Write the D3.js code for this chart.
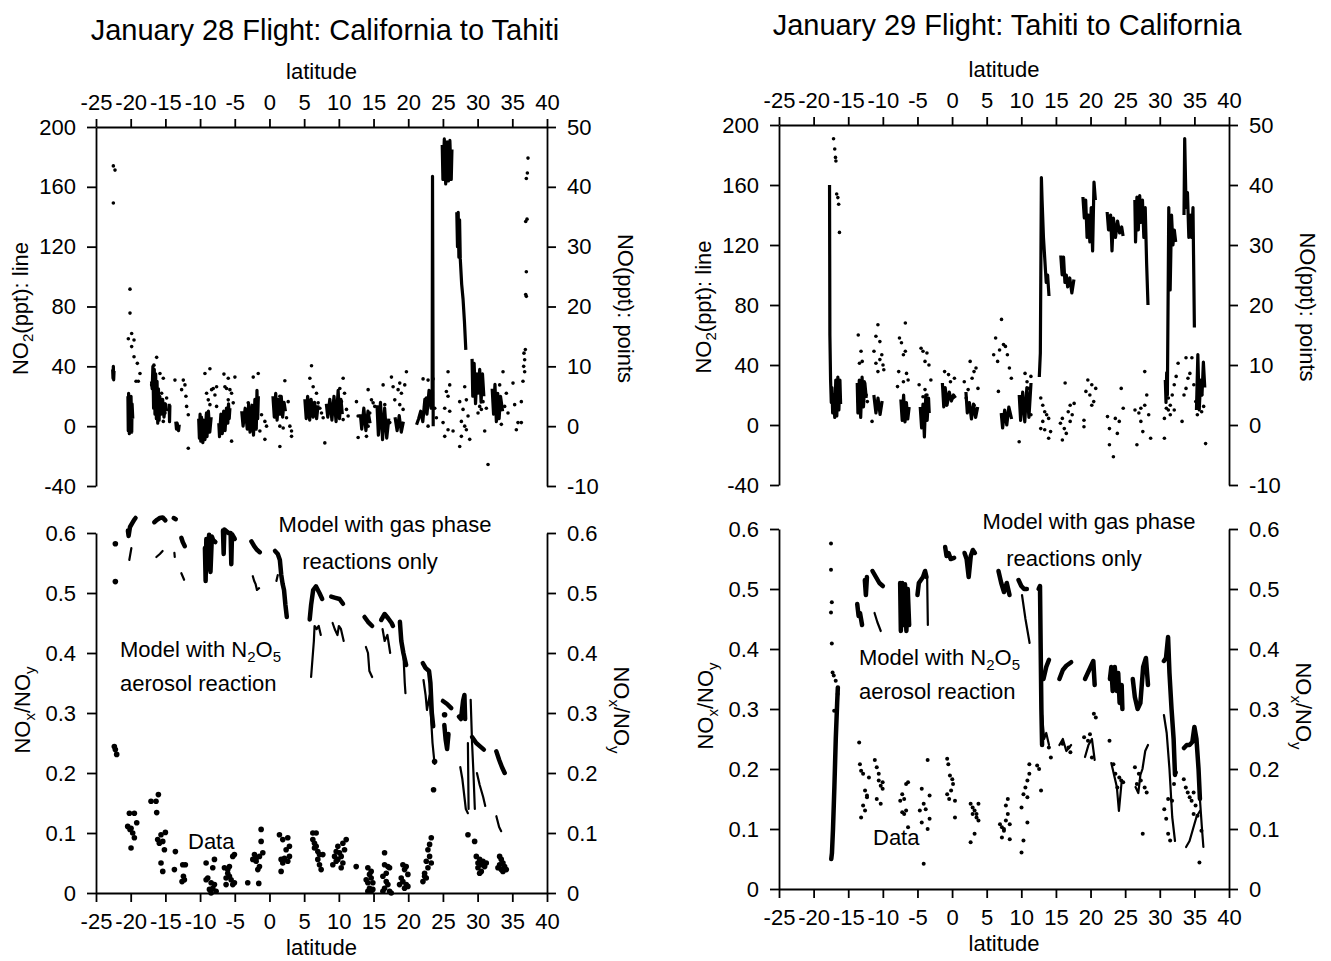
<!DOCTYPE html>
<html>
<head>
<meta charset="utf-8">
<script src="https://cdn.jsdelivr.net/npm/d3@7"></script>
<style>
  body { margin: 0; background: #fff; }
  svg text { font-family: "Liberation Sans", Arial, Helvetica, sans-serif; fill: #000; }
</style>
</head>
<body>
<svg id="chart" width="1331" height="961"></svg>
<script>
// ---- axis ticks ----
var latTicks = [-25, -20, -15, -10, -5, 0, 5, 10, 15, 20, 25, 30, 35, 40];
var no2Ticks = [-40, 0, 40, 80, 120, 160, 200];
var noTicks = [-10, 0, 10, 20, 30, 40, 50];
var ratioTicks = [0, 0.1, 0.2, 0.3, 0.4, 0.5, 0.6];

// ---- January 28 : NO2 line segments [lat, ppt] ----
var jan28No2 = [
  [[-22.6,38],[-22.55,32],[-22.5,40],[-22.45,31],[-22.4,37]],
  [[-20.4,20],[-20.35,-3],[-20.3,22],[-20.2,-5],[-20.1,18],[-20.0,-2],[-19.95,20],[-19.85,-4],[-19.8,15],[-19.7,5]],
  [[-17.0,30],[-16.9,25],[-16.8,40],[-16.7,12],[-16.6,38],[-16.5,8],[-16.4,35],[-16.3,5],[-16.2,30],[-16.1,2],[-16.0,25],[-15.9,4],[-15.8,20],[-15.6,8],[-15.4,18],[-15.2,6],[-15.0,15],[-14.8,10]],
  [[-14.45,15],[-14.4,3],[-14.35,14]],
  [[-13.5,3],[-13.4,-2],[-13.3,2],[-13.1,-3],[-13.0,1]],
  [[-10.2,5],[-10.1,-8],[-10.0,8],[-9.9,-10],[-9.8,6],[-9.6,-11],[-9.5,4],[-9.3,-9],[-9.1,8],[-9.0,-7],[-8.8,10],[-8.6,-4],[-8.4,6]],
  [[-7.3,2],[-7.2,-7],[-7.0,8],[-6.8,-5],[-6.6,10],[-6.4,-3],[-6.2,12],[-6.0,2],[-5.9,15],[-5.8,5],[-5.7,12]],
  [[-4.0,10],[-3.8,0],[-3.5,12],[-3.2,-2],[-3.0,15],[-2.8,-4],[-2.5,14],[-2.3,-6],[-2.1,18],[-1.9,-2],[-1.8,24],[-1.7,5],[-1.6,20]],
  [[0.5,20],[0.7,6],[0.9,22],[1.1,4],[1.3,18],[1.5,8],[1.7,20],[1.9,6],[2.1,16],[2.3,10]],
  [[5.1,18],[5.3,5],[5.5,20],[5.8,4],[6.0,18],[6.3,6],[6.5,16],[6.8,5],[7.0,14]],
  [[8.2,15],[8.4,6],[8.7,18],[9.0,4],[9.3,20],[9.6,3],[9.9,24],[10.1,5],[10.3,18],[10.5,8]],
  [[13.1,8],[13.3,-2],[13.6,12],[13.9,-3],[14.2,10],[14.5,2]],
  [[15.5,14],[15.7,-6],[16.0,16],[16.3,-9],[16.6,12],[16.9,-8],[17.2,5]],
  [[18.1,6],[18.4,-3],[18.7,7],[19.0,-4],[19.3,3]],
  [[21.2,1],[21.5,5],[21.8,10],[22.1,3],[22.4,18],[22.7,8],[23.0,24],[23.3,12],[23.45,20],[23.5,167],[23.6,0]],
  [[24.9,188],[25.0,165],[25.2,192],[25.4,162],[25.6,190],[25.8,164],[26.0,191],[26.2,165],[26.3,185]],
  [[27.0,143],[27.1,120],[27.2,143],[27.3,113],[27.4,138],[27.5,112],[27.7,95],[27.9,85],[28.1,70],[28.3,51]],
  [[29.2,45],[29.3,20],[29.5,42],[29.7,15],[29.9,35],[30.1,22],[30.3,38],[30.5,16],[30.7,35],[30.9,20]],
  [[32.1,25],[32.3,8],[32.5,28],[32.7,3],[32.9,22],[33.1,5],[33.3,20],[33.6,10]]
];

// ---- January 28 : NO points [lat, ppt] ----
var jan28No = [
  [-22.5,43.5],[-22.26,42.8],[-22.5,37.3],
  [-20.1,22.9],[-20.1,18.9],[-19.86,15.5],[-20.34,14.6],[-19.52,14.4],[-19.86,13.3],[-19.52,11.6],[-19.04,10.5],[-18.66,8.8],[-19.23,7.5],[-18.9,7.5],
  [-16.26,11.5],[-16.65,10.2],[-16.98,6.9],[-16.5,6.3],[-15.78,8.8],[-15.3,8.0],[-15.54,5.5],[-14.82,4.7],[-15.78,3.6],[-15.06,2.2],[-16.02,1.3],[-15.3,0.8],[-16.26,2.8],[-16.5,3.9],
  [-13.62,7.7],[-12.42,7.7],[-12.18,6.9],[-12.66,6.1],[-12.04,5.0],[-11.94,3.3],[-11.7,1.9],[-11.7,-3.7],
  [-9.3,8.8],[-8.58,9.6],[-9.06,5.5],[-8.34,6.1],[-8.1,6.3],[-7.62,6.6],[-8.82,4.4],[-7.86,5.2],[-8.58,3.6],[-7.62,3.3],[-9.06,2.2],
  [-6.56,8.7],[-5.94,8.0],[-6.18,6.3],[-5.7,6.1],[-4.98,8.2],[-5.46,5.5],[-5.22,3.9],[-5.94,4.4],[-5.46,-2.5],[-6.42,6.6],
  [-2.34,8.2],[-1.62,8.8],[-3.06,3.9],[-2.58,2.2],[-1.86,3.3],[-1.14,1.9],[-0.66,0.8],[-0.42,0],[-0.66,-2.2],[-1.38,-0.8],
  [2.22,7.6],[1.5,5.0],[2.7,4.1],[1.5,0],[1.98,-0.3],[2.94,0],[3.18,-0.8],[3.18,-1.7],[1.5,-3.4],[2.46,1.4],
  [6.06,10.1],[5.82,8.0],[6.3,6.6],[6.78,5.5],[7.02,3.9],[7.5,2.2],[7.74,1.4],[7.98,-2.8],[6.3,1.9],[7.26,3.0],
  [10.62,8.0],[10.14,6.3],[10.82,5.5],[10.38,4.1],[11.1,2.8],[9.66,3.3],[11.34,1.7],[10.62,1.1],[9.9,2.2],
  [12.54,4.1],[12.78,1.7],[12.78,-1.9],[14.22,6.1],[14.7,4.4],[14.94,3.9],[14.46,2.2],[13.98,1.1],[14.22,0],[13.98,-1.7],[15.18,3.3],
  [16.38,6.9],[17.58,8.2],[17.82,6.6],[18.06,4.4],[18.78,3.6],[19.02,5.5],[19.5,6.9],[19.74,9.1],[19.26,2.8],[16.62,3.6],[17.34,0.6],[18.54,6.1],[18.78,7.2],
  [22.14,7.9],[22.86,7.7],[23.58,7.9],[22.62,4.7],[22.38,3.3],[23.82,3.0],[24.06,1.4],[22.86,0],
  [25.74,9.1],[25.98,6.9],[25.5,5.8],[25.74,5.0],[25.26,3.0],[25.98,2.5],[25.02,0.6],[25.74,-0.6],[26.46,-0.8],[25.26,-1.7],
  [28.14,6.6],[27.42,4.1],[28.38,4.4],[27.9,2.8],[28.62,1.7],[27.66,0.8],[28.14,0],[28.38,-0.6],[27.66,-1.7],[28.86,-2.2],[27.42,-3.4],
  [29.82,5.5],[30.3,3.3],[30.54,2.8],[30.06,2.2],[31.26,3.0],[31.02,-0.8],[31.5,-6.4],[30.78,4.1],
  [33.66,9.1],[33.18,6.9],[34.14,5.5],[33.9,3.3],[33.42,0.3],[34.38,2.2],[32.94,4.4],
  [35.1,7.2],[36.54,7.5],[36.3,4.1],[35.34,3.6],[35.58,-0.6],[35.82,0.6],[36.3,0.6],[36.78,9.1],[36.78,11.1],[36.68,12.2],[36.88,12.8],[36.64,10.0],
  [37.02,25.8],[36.93,22.0],[37.02,21.7],[37.12,34.6],[36.93,34.2],[37.17,42.3],[37.02,41.4],[37.26,44.8]
];

// ---- January 28 : NOx/NOy data points [lat, ratio] ----
var jan28Data = [
  [-22.21,0.582],[-22.21,0.519],
  [-22.21,0.239],[-22.02,0.231],[-22.36,0.244],
  [-20.19,0.133],[-19.47,0.133],[-20.43,0.111],[-19.95,0.108],[-19.71,0.1],[-19.47,0.092],[-19.95,0.075],[-19.13,0.117],[-20.1,0.106],
  [-17.07,0.153],[-16.35,0.153],[-16.01,0.164],[-16.25,0.134],[-15.63,0.097],[-15.0,0.101],[-15.38,0.086],[-15.87,0.083],[-15.14,0.072],[-15.63,0.05],[-15.38,0.036],[-16.11,0.089],
  [-13.56,0.069],[-13.7,0.039],[-12.5,0.047],[-12.12,0.047],[-12.4,0.028],[-12.26,0.022],[-12.6,0.019],
  [-9.13,0.05],[-7.93,0.056],[-8.89,0.025],[-8.41,0.017],[-8.17,0.008],[-8.65,0.006],[-7.93,0.014],[-8.17,0.042],[-9.13,0.022],[-8.41,0.0],[-7.69,0.003],
  [-6.49,0.042],[-6.01,0.039],[-5.77,0.044],[-5.29,0.061],[-5.05,0.064],[-6.25,0.025],[-5.77,0.028],[-5.53,0.022],[-5.29,0.014],[-6.25,0.014],[-5.05,0.017],[-6.01,0.033],
  [-3.13,0.017],[-2.4,0.056],[-1.92,0.058],[-1.44,0.061],[-1.2,0.106],[-1.2,0.086],[-1.44,0.044],[-1.68,0.039],[-1.92,0.053],[-1.54,0.016],[-0.96,0.067],[-2.16,0.064],
  [1.44,0.097],[1.92,0.089],[2.64,0.092],[2.88,0.078],[2.4,0.072],[1.68,0.056],[2.16,0.058],[1.92,0.05],[2.64,0.053],[1.68,0.036],[2.88,0.061],
  [6.25,0.1],[6.73,0.1],[6.25,0.089],[6.49,0.083],[6.73,0.078],[6.97,0.069],[7.21,0.064],[7.69,0.064],[6.97,0.056],[7.21,0.047],[7.45,0.039],[6.49,0.075],
  [11.06,0.089],[10.58,0.083],[9.86,0.078],[9.62,0.069],[10.1,0.067],[10.34,0.061],[9.38,0.061],[9.62,0.053],[10.58,0.05],[10.34,0.042],[9.86,0.056],[10.82,0.072],[9.13,0.047],[12.5,0.044],
  [14.18,0.042],[14.66,0.036],[14.42,0.031],[14.66,0.025],[13.94,0.022],[14.18,0.017],[14.9,0.017],[14.42,0.008],[14.18,0.003],[14.66,0.003],[14.9,0.006],
  [16.59,0.067],[16.59,0.047],[17.07,0.044],[17.31,0.042],[16.35,0.028],[16.83,0.019],[17.07,0.014],[16.59,0.008],[17.31,0.003],[17.55,0.0],[16.83,0.033],[16.35,0.003],
  [19.23,0.047],[19.71,0.044],[19.47,0.039],[19.95,0.031],[18.99,0.025],[19.23,0.019],[19.71,0.014],[19.95,0.011],[19.47,0.008],[18.75,0.014],
  [23.32,0.092],[23.08,0.081],[22.84,0.072],[23.08,0.061],[22.6,0.053],[23.32,0.05],[22.84,0.042],[22.36,0.033],[22.6,0.025],[22.12,0.019],[22.36,0.028],
  [23.8,0.219],[23.65,0.172],[25.24,0.297],[28.61,0.097],[29.57,0.086],
  [29.81,0.061],[30.29,0.056],[30.05,0.05],[30.53,0.047],[30.77,0.053],[31.25,0.05],[30.05,0.042],[30.53,0.036],[31.01,0.044],[30.29,0.033],
  [33.17,0.061],[33.41,0.056],[33.65,0.05],[33.17,0.047],[33.89,0.044],[33.41,0.039],[34.13,0.039],[32.93,0.042],[33.65,0.036]
];

// ---- January 28 : model, gas phase reactions only ----
var jan28Gas = [
  [[-20.4,0.604],[-20.3,0.595],[-20.1,0.61],[-19.8,0.616],[-19.5,0.622],[-19.3,0.625]],
  [[-16.6,0.618],[-16.2,0.622],[-15.8,0.625],[-15.4,0.626],[-15.0,0.621]],
  [[-13.8,0.625],[-13.5,0.623]],
  [[-12.7,0.592],[-12.5,0.585],[-12.2,0.578]],
  [[-9.3,0.575],[-9.2,0.52],[-9.1,0.59],[-8.9,0.54],[-8.7,0.597],[-8.5,0.535],[-8.3,0.594],[-8.1,0.588],[-7.8,0.585]],
  [[-6.7,0.604],[-6.6,0.565],[-6.5,0.606],[-6.2,0.603],[-5.9,0.6],[-5.6,0.6],[-5.5,0.548],[-5.4,0.598],[-5.0,0.59]],
  [[-2.6,0.586],[-2.2,0.578],[-1.8,0.572],[-1.4,0.568]],
  [[0.8,0.57],[1.2,0.565],[1.5,0.555],[1.7,0.53],[1.9,0.515],[2.1,0.505],[2.3,0.48],[2.5,0.46]],
  [[5.8,0.456],[6.0,0.48],[6.3,0.505],[6.7,0.511],[7.2,0.5],[7.6,0.49]],
  [[8.9,0.494],[9.5,0.492],[10.1,0.49],[10.6,0.482]],
  [[13.7,0.46],[14.2,0.452],[14.8,0.445]],
  [[16.1,0.455],[16.6,0.465],[17.1,0.458],[17.6,0.45],[17.8,0.445]],
  [[18.8,0.452],[19.0,0.42],[19.3,0.4],[19.6,0.385],[19.7,0.38]],
  [[22.1,0.383],[22.5,0.375],[23.0,0.37],[23.2,0.35],[23.4,0.3],[23.6,0.278]],
  [[25.0,0.32],[25.6,0.315],[26.2,0.308]],
  [[25.2,0.28],[25.4,0.255],[25.6,0.24],[25.8,0.265]],
  [[27.3,0.294],[27.6,0.29],[27.9,0.32],[28.1,0.33],[28.2,0.29]],
  [[29.2,0.26],[29.8,0.25],[30.4,0.244],[30.9,0.239]],
  [[32.7,0.236],[33.1,0.222],[33.5,0.21],[33.9,0.2]]
];

// ---- January 28 : model with N2O5 aerosol reaction ----
var jan28Aero = [
  [[-20.2,0.555],[-19.9,0.575]],
  [[-16.3,0.56],[-15.8,0.565],[-15.4,0.57]],
  [[-13.7,0.567],[-13.65,0.56]],
  [[-12.7,0.533],[-12.3,0.522]],
  [[-2.4,0.528],[-2.2,0.52],[-2.0,0.515],[-1.8,0.505],[-1.5,0.508]],
  [[1.0,0.52],[1.2,0.53]],
  [[6.0,0.36],[6.2,0.39],[6.4,0.42],[6.5,0.445],[6.8,0.44],[7.1,0.445],[7.4,0.43]],
  [[9.1,0.45],[9.4,0.44],[9.8,0.43],[10.0,0.445],[10.3,0.44],[10.7,0.42]],
  [[13.9,0.41],[14.2,0.4],[14.4,0.37],[14.8,0.36]],
  [[16.3,0.44],[16.6,0.42],[17.0,0.43],[17.4,0.4]],
  [[19.3,0.4],[19.5,0.35],[19.6,0.333]],
  [[22.2,0.355],[22.5,0.33],[22.7,0.305],[23.1,0.33],[23.5,0.25],[23.8,0.215]],
  [[27.5,0.21],[27.8,0.19],[28.1,0.16],[28.3,0.14],[28.6,0.133]],
  [[28.6,0.25],[28.7,0.14]],
  [[29.0,0.322],[29.2,0.25],[29.4,0.2],[29.6,0.14]],
  [[29.9,0.2],[30.3,0.18],[30.8,0.16],[31.1,0.145]],
  [[32.7,0.128],[33.1,0.11],[33.4,0.103]]
];

// ---- January 29 : NO2 line segments ----
var jan29No2 = [
  [[-17.7,160],[-17.65,60],[-17.55,30],[-17.45,15],[-17.35,25],[-17.25,8],[-17.1,20],[-16.95,5],[-16.8,30],[-16.65,6],[-16.5,32],[-16.35,10],[-16.2,30],[-16.1,14]],
  [[-13.7,28],[-13.6,8],[-13.4,30],[-13.2,5],[-13.0,32],[-12.8,12],[-12.6,28],[-12.4,18]],
  [[-11.3,20],[-11.0,8],[-10.7,18],[-10.4,7],[-10.1,16]],
  [[-7.4,17],[-7.2,3],[-7.0,20],[-6.8,2],[-6.6,15],[-6.4,4],[-6.2,12]],
  [[-4.6,12],[-4.4,-2],[-4.2,14],[-4.0,-8],[-3.8,20],[-3.6,3],[-3.4,18],[-3.3,8]],
  [[-1.4,28],[-1.2,12],[-1.0,25],[-0.7,14],[-0.4,22],[-0.1,16],[0.2,20],[0.5,18]],
  [[2.0,22],[2.2,8],[2.5,15],[2.8,4],[3.1,14],[3.4,5],[3.7,12]],
  [[7.1,8],[7.3,-2],[7.6,10],[7.9,0],[8.2,12],[8.6,4]],
  [[9.7,20],[9.9,3],[10.2,22],[10.5,2],[10.8,25],[11.1,5],[11.4,28]],
  [[12.6,32],[12.75,48],[12.9,165],[13.0,150],[13.2,125],[13.4,110],[13.6,95],[13.8,100],[14.0,86]],
  [[15.7,113],[15.9,100],[16.1,112],[16.3,95],[16.5,100],[16.7,92],[17.0,98],[17.3,88],[17.6,97]],
  [[18.9,152],[19.1,138],[19.3,150],[19.5,125],[19.7,140],[19.9,122],[20.1,145],[20.3,116],[20.5,162],[20.7,150]],
  [[22.4,142],[22.6,130],[22.9,140],[23.1,116],[23.3,138],[23.6,125],[23.9,136],[24.2,128],[24.5,132],[24.7,126]],
  [[26.4,150],[26.5,122],[26.7,152],[26.9,130],[27.1,153],[27.3,135],[27.5,150],[27.7,125],[27.9,145],[28.1,108],[28.3,80]],
  [[30.8,30],[30.9,15],[31.0,35],[31.1,20],[31.3,145],[31.5,90],[31.7,140],[31.9,120],[32.1,130],[32.3,122]],
  [[33.5,140],[33.6,191],[33.8,145],[34.0,155],[34.2,125],[34.4,140],[34.6,125],[34.8,145],[35.0,65]],
  [[35.3,10],[35.5,47],[35.7,10],[35.9,30],[36.1,20],[36.3,42],[36.5,25]]
];

// ---- January 29 : NO points ----
var jan29No = [
  [-17.12,47.7],[-16.95,46.0],[-16.84,44.6],[-16.78,44.0],[-16.67,38.5],[-16.5,37.9],[-16.38,36.8],[-16.27,32.1],
  [-13.55,15.0],[-13.38,10.3],[-13.15,12.3],[-12.98,10.6],[-13.15,5.6],[-13.55,3.9],[-13.27,7.2],[-12.7,7.2],[-12.41,5.0],[-12.24,3.9],
  [-11.0,14.8],[-10.71,16.7],[-10.43,13.9],[-11.28,12.3],[-11.0,10.3],[-10.15,11.7],[-9.98,10.0],[-9.86,9.2],[-10.71,8.9],[-11.56,0.6],[-10.43,10.9],
  [-7.6,14.5],[-7.31,13.7],[-7.03,11.7],[-6.75,12.3],[-6.75,17.0],[-7.71,8.9],[-6.58,8.6],[-6.35,7.5],[-7.03,7.2],[-7.88,6.4],
  [-4.48,12.8],[-4.2,12.3],[-3.91,10.6],[-3.63,12.0],[-3.34,10.0],[-4.76,6.7],[-3.91,5.9],[-3.63,5.0],[-4.2,4.7],[-3.06,7.5],
  [-1.08,8.9],[-0.51,8.4],[-0.23,7.2],[0.34,7.8],[-0.79,3.3],[0.06,4.5],
  [1.76,7.2],[2.32,5.9],[2.89,7.8],[3.17,8.9],[3.46,9.5],[2.61,10.6],[3.74,6.1],[2.04,4.5],[3.17,3.3],
  [6.29,14.5],[6.01,11.7],[6.58,10.6],[6.86,12.5],[7.43,13.4],[7.14,17.6],[7.71,13.1],[7.99,11.7],[8.28,9.5],[6.69,5.6],[8.28,1.7],[8.56,7.8],
  [9.69,-2.8],[10.54,8.6],[10.83,7.2],[11.11,6.1],[11.39,8.1],[10.26,4.2],[11.11,3.3],[11.39,1.7],
  [12.81,4.5],[13.1,3.3],[13.38,2.2],[13.1,0.6],[12.81,-0.6],[13.66,1.7],[13.95,1.1],[14.23,-1.1],[13.95,-2.2],[13.38,-0.8],
  [16.33,7.0],[15.93,1.1],[15.65,0.3],[16.21,-0.6],[16.5,-1.4],[16.78,2.2],[17.35,1.7],[17.63,3.6],[17.06,0.6],[15.93,-2.5],[17.06,3.3],
  [19.05,0.8],[19.33,5.6],[19.9,5.0],[20.18,3.3],[20.46,3.9],[20.75,6.1],[19.61,7.5],[20.18,6.7],[19.05,-0.3],
  [22.45,1.4],[22.73,-0.6],[22.73,-3.3],[23.3,-5.3],[23.58,1.1],[24.15,0.6],[24.43,6.1],[23.87,-1.4],[24.72,2.8],
  [26.42,2.5],[26.98,2.0],[27.27,0.6],[27.83,3.3],[28.12,5.0],[27.83,8.9],[28.4,1.7],[27.55,-1.1],[26.7,-3.3],[28.68,-2.2],[27.27,2.8],
  [30.67,1.1],[30.95,2.8],[31.24,4.5],[31.52,3.3],[32.09,6.7],[32.37,8.1],[32.65,10.3],[31.8,5.0],[31.24,2.5],[30.67,-2.2],[32.09,2.5],[31.52,1.7],
  [33.5,5.0],[33.79,6.1],[34.07,7.8],[34.35,8.6],[33.79,11.2],[34.64,11.2],[34.92,6.7],[35.2,3.9],[35.43,1.7],[36.05,2.2],[36.34,3.1],[36.62,-3.1],[35.77,5.6],[33.22,0.6],[36.05,5.0]
];

// ---- January 29 : NOx/NOy data points ----
var jan29Data = [
  [-17.49,0.576],[-17.49,0.532],[-17.37,0.478],[-17.49,0.461],[-17.37,0.409],[-17.26,0.361],[-17.09,0.356],[-16.81,0.347],[-16.53,0.325],[-17.03,0.297],
  [-13.42,0.244],[-13.31,0.208],[-13.14,0.197],[-12.85,0.192],[-12.57,0.164],[-12.29,0.153],[-12.85,0.139],[-12.57,0.131],[-12.01,0.186],[-13.14,0.119],[-12.29,0.156],
  [-11.16,0.215],[-10.88,0.203],[-10.59,0.181],[-10.31,0.172],[-10.03,0.178],[-10.88,0.15],[-10.31,0.142],[-10.59,0.192],[-10.03,0.167],
  [-7.2,0.158],[-6.92,0.15],[-6.64,0.175],[-6.36,0.178],[-7.2,0.128],[-6.64,0.131],[-6.36,0.103],[-6.92,0.125],[-7.49,0.147],
  [-4.38,0.167],[-4.1,0.142],[-3.81,0.133],[-3.53,0.1],[-4.38,0.111],[-3.25,0.156],[-3.53,0.215],[-4.1,0.042],[-4.66,0.131],[-3.25,0.117],
  [-0.71,0.217],[-0.54,0.208],[-0.31,0.189],[0.03,0.183],[0.14,0.175],[-0.14,0.164],[-0.42,0.15],[0.42,0.147],[0.42,0.119],[-0.71,0.158],
  [2.68,0.142],[2.97,0.136],[3.25,0.131],[3.53,0.125],[3.81,0.142],[2.68,0.078],[3.25,0.092],[3.53,0.119],[2.97,0.125],[3.81,0.114],
  [6.92,0.108],[7.2,0.103],[7.49,0.097],[7.77,0.114],[8.05,0.125],[8.33,0.108],[7.77,0.139],[8.05,0.15],[7.2,0.086],[8.33,0.083],[7.49,0.1],
  [10.03,0.136],[10.31,0.158],[10.59,0.169],[10.88,0.181],[11.16,0.208],[10.88,0.153],[10.31,0.081],[10.03,0.061],[10.88,0.111],[11.16,0.192],
  [12.57,0.2],[12.85,0.164],[12.29,0.206],
  [14.27,0.219],[13.98,0.236],[15.96,0.242],[16.81,0.236],[17.09,0.228],
  [19.07,0.253],[19.63,0.247],[19.92,0.258],[20.48,0.292],[20.2,0.219],[20.76,0.286],
  [22.74,0.247],[23.31,0.208],[23.59,0.192],[24.15,0.186],[24.44,0.181],[24.72,0.178],[23.87,0.169],
  [26.41,0.203],[26.98,0.192],[27.26,0.181],[27.82,0.169],[28.11,0.161],[26.69,0.175],[27.54,0.092],
  [30.65,0.133],[30.93,0.117],[31.21,0.092],[31.5,0.081],[31.78,0.147],[32.06,0.175],[32.34,0.194],[31.21,0.15],
  [33.47,0.183],[33.76,0.169],[34.04,0.161],[34.32,0.153],[34.6,0.147],[34.89,0.161],[35.17,0.139],[35.45,0.122],[35.73,0.044],[36.02,0.097],[34.89,0.125]
];

// ---- January 29 : model, gas phase reactions only ----
var jan29Gas = [
  [[-17.45,0.05],[-17.35,0.06],[-17.2,0.1],[-17.0,0.17],[-16.8,0.25],[-16.6,0.31],[-16.5,0.336]],
  [[-13.7,0.475],[-13.5,0.455],[-13.3,0.46],[-13.0,0.44]],
  [[-12.6,0.515],[-12.45,0.49],[-12.3,0.52]],
  [[-11.5,0.53],[-11.0,0.52],[-10.5,0.51],[-10.0,0.505]],
  [[-7.5,0.51],[-7.4,0.43],[-7.2,0.51],[-7.0,0.44],[-6.8,0.508],[-6.6,0.43],[-6.4,0.5],[-6.2,0.44]],
  [[-5.0,0.49],[-4.8,0.51],[-4.5,0.515],[-4.2,0.52],[-3.9,0.53],[-3.7,0.52]],
  [[-1.0,0.57],[-0.8,0.555],[-0.5,0.56],[-0.2,0.55],[0.3,0.552]],
  [[1.8,0.56],[2.1,0.55],[2.4,0.52],[2.7,0.555],[3.0,0.565],[3.3,0.56]],
  [[6.7,0.53],[7.1,0.51],[7.5,0.495],[7.9,0.51],[8.3,0.49]],
  [[9.6,0.515],[10.0,0.505],[10.4,0.5],[10.8,0.5]],
  [[12.5,0.5],[12.7,0.505],[12.8,0.4],[12.9,0.3],[13.0,0.24]],
  [[13.2,0.35],[13.6,0.37],[14.0,0.382]],
  [[15.5,0.35],[16.0,0.365],[16.5,0.372],[17.2,0.378]],
  [[19.2,0.35],[19.6,0.36],[20.0,0.37],[20.4,0.38],[20.6,0.34]],
  [[22.8,0.35],[23.0,0.37],[23.2,0.33],[23.5,0.37],[23.8,0.33],[24.0,0.36],[24.2,0.31],[24.5,0.34],[24.6,0.3]],
  [[26.1,0.35],[26.4,0.32],[26.8,0.3],[27.2,0.31],[27.6,0.37],[28.0,0.385],[28.3,0.34]],
  [[30.6,0.38],[30.9,0.385],[31.2,0.42],[31.4,0.36],[31.7,0.3],[32.0,0.25],[32.2,0.19]],
  [[33.5,0.235],[33.9,0.24],[34.3,0.24],[34.7,0.245],[35.0,0.27],[35.3,0.25],[35.6,0.2],[35.8,0.15]]
];

// ---- January 29 : model with N2O5 aerosol reaction ----
var jan29Aero = [
  [[-11.2,0.46],[-10.8,0.445],[-10.3,0.43]],
  [[-3.6,0.52],[-3.5,0.44]],
  [[10.1,0.49],[10.6,0.45],[11.2,0.41]],
  [[13.0,0.29],[13.3,0.25],[13.6,0.26],[14.0,0.24]],
  [[15.5,0.24],[16.0,0.25],[16.5,0.23],[17.2,0.24]],
  [[19.2,0.22],[19.7,0.24],[20.2,0.25],[20.6,0.215]],
  [[23.0,0.21],[23.4,0.19],[23.8,0.17],[24.1,0.13],[24.5,0.18]],
  [[26.5,0.17],[26.9,0.16],[27.2,0.19],[27.5,0.2],[27.9,0.23],[28.3,0.24]],
  [[30.6,0.29],[31.0,0.26],[31.4,0.2],[31.8,0.12],[32.2,0.08]],
  [[33.8,0.07],[34.3,0.08],[34.8,0.1],[35.3,0.12],[35.8,0.13]],
  [[35.8,0.15],[36.1,0.1],[36.3,0.07]]
];

var svg = d3.select('#chart');
svg.append('rect').attr('width', 1331).attr('height', 961).attr('fill', '#fff');

function fmtRatio(d) { return d === 0 ? '0' : d.toFixed(1); }

function styleAxis(g) {
  g.attr('font-family', null).attr('font-size', 22);
  g.selectAll('path, line').attr('stroke', '#000').attr('stroke-width', 1.8);
  g.selectAll('text').attr('fill', '#000');
}

// text with subscripts: parts = [[text, isSub], ...]
function richText(sel, parts) {
  var prevSub = false;
  parts.forEach(function (p) {
    var t = sel.append('tspan').text(p[0]);
    if (p[1]) { t.attr('font-size', 15).attr('dy', 5); prevSub = true; }
    else if (prevSub) { t.attr('dy', -5); prevSub = false; }
  });
  return sel;
}

function drawFlight(p) {
  var x = d3.scaleLinear().domain([-25, 40]).range([p.x0, p.x1]);
  var yNo2 = d3.scaleLinear().domain([-40, 200]).range([p.tBot, p.tTop]);
  var yNo = d3.scaleLinear().domain([-10, 50]).range([p.tBot, p.tTop]);
  var yR = d3.scaleLinear().domain([0, 0.6]).range([p.bBot, p.bTop]);
  var g = svg.append('g');

  // title
  g.append('text').attr('x', p.titleX).attr('y', p.titleY).attr('text-anchor', 'middle')
    .attr('font-size', 29).text(p.title);

  // top panel axes
  g.append('g').attr('transform', 'translate(0,' + p.tTop + ')')
    .call(d3.axisTop(x).tickValues(latTicks).tickSize(8).tickPadding(9).tickSizeOuter(0).tickFormat(function (d) { return String(d); }))
    .call(styleAxis);
  g.append('g').attr('transform', 'translate(' + p.x0 + ',0)')
    .call(d3.axisLeft(yNo2).tickValues(no2Ticks).tickSize(9).tickPadding(11).tickSizeOuter(0).tickFormat(function (d) { return String(d); }))
    .call(styleAxis);
  g.append('g').attr('transform', 'translate(' + p.x1 + ',0)')
    .call(d3.axisRight(yNo).tickValues(noTicks).tickSize(9).tickPadding(11).tickSizeOuter(0).tickFormat(function (d) { return String(d); }))
    .call(styleAxis);

  // bottom panel axes
  g.append('g').attr('transform', 'translate(0,' + p.bBot + ')')
    .call(d3.axisBottom(x).tickValues(latTicks).tickSize(9).tickPadding(11).tickSizeOuter(0).tickFormat(function (d) { return String(d); }))
    .call(styleAxis);
  g.append('g').attr('transform', 'translate(' + p.x0 + ',0)')
    .call(d3.axisLeft(yR).tickValues(ratioTicks).tickSize(9).tickPadding(11).tickSizeOuter(0).tickFormat(fmtRatio))
    .call(styleAxis);
  g.append('g').attr('transform', 'translate(' + p.x1 + ',0)')
    .call(d3.axisRight(yR).tickValues(ratioTicks).tickSize(9).tickPadding(11).tickSizeOuter(0).tickFormat(fmtRatio))
    .call(styleAxis);

  // axis titles
  var cx = (p.x0 + p.x1) / 2;
  g.append('text').attr('x', cx).attr('y', p.tTop - 48).attr('text-anchor', 'middle').attr('font-size', 22).text('latitude');
  g.append('text').attr('x', cx).attr('y', p.bBot + 62).attr('text-anchor', 'middle').attr('font-size', 22).text('latitude');

  var tMid = (p.tTop + p.tBot) / 2 + 2, bMid = (p.bTop + p.bBot) / 2 - 3;
  richText(g.append('text').attr('font-size', 22).attr('text-anchor', 'middle')
    .attr('transform', 'translate(' + (p.x0 - 68) + ',' + tMid + ') rotate(-90)'),
    [['NO', false], ['2', true], ['(ppt): line', false]]);
  richText(g.append('text').attr('font-size', 22).attr('text-anchor', 'middle')
    .attr('transform', 'translate(' + (p.x1 + 71) + ',' + tMid + ') rotate(90)'),
    [['NO(ppt): points', false]]);
  richText(g.append('text').attr('font-size', 22).attr('text-anchor', 'middle')
    .attr('transform', 'translate(' + (p.x0 - 66) + ',' + bMid + ') rotate(-90)'),
    [['NO', false], ['x', true], ['/NO', false], ['y', true]]);
  richText(g.append('text').attr('font-size', 22).attr('text-anchor', 'middle')
    .attr('transform', 'translate(' + (p.x1 + 67) + ',' + bMid + ') rotate(90)'),
    [['NO', false], ['x', true], ['/NO', false], ['y', true]]);

  // top panel marks
  var lineNo2 = d3.line().x(function (d) { return x(d[0]); }).y(function (d) { return yNo2(d[1]); });
  g.append('g').selectAll('path').data(p.no2).enter().append('path')
    .attr('d', lineNo2).attr('fill', 'none').attr('stroke', '#000')
    .attr('stroke-width', 3.2).attr('stroke-linejoin', 'round');
  g.append('g').selectAll('circle').data(p.no).enter().append('circle')
    .attr('cx', function (d) { return x(d[0]); }).attr('cy', function (d) { return yNo(d[1]); })
    .attr('r', 1.8).attr('fill', '#000');

  // bottom panel marks
  var lineR = d3.line().x(function (d) { return x(d[0]); }).y(function (d) { return yR(d[1]); });
  g.append('g').selectAll('path').data(p.gas).enter().append('path')
    .attr('d', lineR).attr('fill', 'none').attr('stroke', '#000')
    .attr('stroke-width', 4.5).attr('stroke-linejoin', 'round').attr('stroke-linecap', 'round');
  g.append('g').selectAll('path').data(p.aero).enter().append('path')
    .attr('d', lineR).attr('fill', 'none').attr('stroke', '#000')
    .attr('stroke-width', 2.2).attr('stroke-linejoin', 'round').attr('stroke-linecap', 'round');
  g.append('g').selectAll('circle').data(p.data).enter().append('circle')
    .attr('cx', function (d) { return x(d[0]); }).attr('cy', function (d) { return yR(d[1]); })
    .attr('r', p.dotR).attr('fill', '#000');

  // annotations
  g.append('text').attr('x', p.gasX).attr('y', p.gasY).attr('text-anchor', 'middle').attr('font-size', 22).text('Model with gas phase');
  g.append('text').attr('x', p.gasX2).attr('y', p.gasY + 37).attr('text-anchor', 'middle').attr('font-size', 22).text('reactions only');
  richText(g.append('text').attr('x', p.aeroX).attr('y', p.aeroY).attr('font-size', 22),
    [['Model with N', false], ['2', true], ['O', false], ['5', true]]);
  g.append('text').attr('x', p.aeroX).attr('y', p.aeroY + 34).attr('font-size', 22).text('aerosol reaction');
  g.append('text').attr('x', p.dataX).attr('y', p.dataY).attr('font-size', 22).text('Data');
}

drawFlight({
  title: 'January 28 Flight: California to Tahiti', titleX: 325, titleY: 40,
  x0: 96, x1: 547, tTop: 127, tBot: 486, bTop: 533, bBot: 893,
  no2: jan28No2, no: jan28No, gas: jan28Gas, aero: jan28Aero, data: jan28Data, dotR: 2.8,
  gasX: 385, gasX2: 370, gasY: 532, aeroX: 120, aeroY: 657, dataX: 188, dataY: 849
});

drawFlight({
  title: 'January 29 Flight: Tahiti to California', titleX: 1007, titleY: 35,
  x0: 779, x1: 1229, tTop: 125, tBot: 485, bTop: 529, bBot: 889,
  no2: jan29No2, no: jan29No, gas: jan29Gas, aero: jan29Aero, data: jan29Data, dotR: 2,
  gasX: 1089, gasX2: 1074, gasY: 529, aeroX: 859, aeroY: 665, dataX: 873, dataY: 845
});
</script>
</body>
</html>
